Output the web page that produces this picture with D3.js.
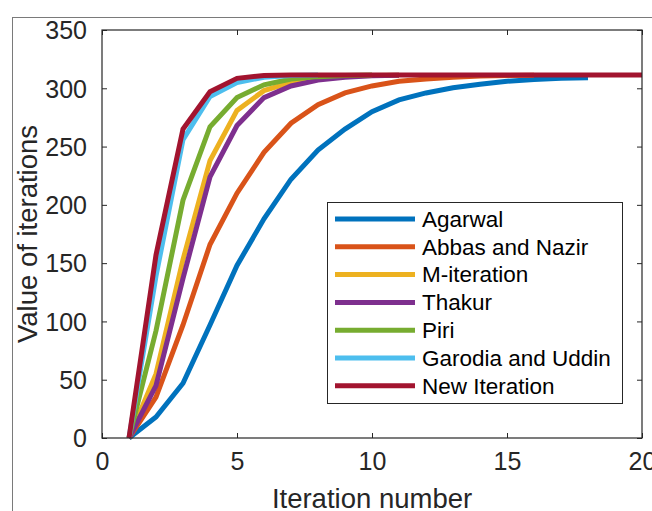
<!DOCTYPE html>
<html>
<head>
<meta charset="utf-8">
<script src="https://cdn.jsdelivr.net/npm/d3@7"></script>
<style>
body { margin: 0; background: #fff; }
svg { display: block; font-family: 'Liberation Sans', Arial, sans-serif; }
</style>
</head>
<body>
<div class="chart"></div>
<script>
// convergence of the iteration schemes
const iterations = d3.range(1, 21)
const agarwal = [0, 18, 47, 97, 148, 188, 222, 247, 265, 280, 290, 296, 300.5, 303.5, 306, 307.5, 308.5, 309]
const abbasNazir = [0, 35, 97, 166, 210, 245, 270, 286, 296, 302, 306, 308, 309.5, 310.5, 311, 311.2]
const mIteration = [0, 55, 153, 238, 281, 298, 305, 309, 310.5, 311, 311.2]
const thakur = [0, 45, 137, 224, 268, 292, 302, 307, 309.5, 310.7, 311.2]
const piri = [0, 92, 204, 267, 292, 303, 308, 310, 311, 311.3]
const garodiaUddin = [0, 139, 256, 293, 305, 309.5, 311, 311.3]
const newIteration = [0, 157, 265, 297, 308.5, 311, 311.4, 311.4, 311.4, 311.4, 311.4, 311.4, 311.4, 311.4, 311.4, 311.4, 311.4, 311.4, 311.4, 311.4]

const seriesNames = ['Agarwal', 'Abbas and Nazir', 'M-iteration', 'Thakur', 'Piri', 'Garodia and Uddin', 'New Iteration']
const seriesValues = [agarwal, abbasNazir, mIteration, thakur, piri, garodiaUddin, newIteration]
const colors = ['#0072BD', '#D95319', '#EDB120', '#7E2F8E', '#77AC30', '#4DBEEE', '#A2142F']
const xTicks = [0, 5, 10, 15, 20]
const yTicks = [0, 50, 100, 150, 200, 250, 300, 350]

const width = 652
const height = 511
const plotLeft = 102, plotRight = 642, plotTop = 30, plotBottom = 438

const svg = d3.select('.chart')
	.append('svg')
	.attr('width', width)
	.attr('height', height)
	.attr('viewBox', [0, 0, width, height])

// outer frame (screenshot border)
svg.append('rect')
	.attr('x', 12.5)
	.attr('y', 17.5)
	.attr('width', 700)
	.attr('height', 600)
	.attr('fill', 'none')
	.attr('stroke', '#7a7a7a')
	.attr('stroke-width', 1)

const x = d3.scaleLinear().domain([0, 20]).range([plotLeft, plotRight])
const y = d3.scaleLinear().domain([0, 350]).range([plotBottom, plotTop])

// axes with inward ticks on all four sides
const axisColor = '#262626'
const bottomAxis = svg.append('g')
	.attr('transform', `translate(0,${plotBottom})`)
	.call(d3.axisBottom(x).tickValues(xTicks).tickSizeInner(-5).tickSizeOuter(0).tickPadding(14))
const topAxis = svg.append('g')
	.attr('transform', `translate(0,${plotTop})`)
	.call(d3.axisTop(x).tickValues(xTicks).tickSizeInner(-5).tickSizeOuter(0).tickFormat(''))
const leftAxis = svg.append('g')
	.attr('transform', `translate(${plotLeft},0)`)
	.call(d3.axisLeft(y).tickValues(yTicks).tickSizeInner(-5).tickSizeOuter(0).tickPadding(15))
const rightAxis = svg.append('g')
	.attr('transform', `translate(${plotRight},0)`)
	.call(d3.axisRight(y).tickValues(yTicks).tickSizeInner(-5).tickSizeOuter(0).tickFormat(''))

;[bottomAxis, topAxis, leftAxis, rightAxis].forEach(g => {
	g.select('.domain').remove()
	g.selectAll('line').attr('stroke', axisColor).attr('stroke-width', 1)
	g.selectAll('text')
		.attr('fill', axisColor)
		.attr('font-size', '25px')
		.attr('font-family', "'Liberation Sans', Arial, sans-serif")
})
bottomAxis.selectAll('text').attr('dy', '0.71em')
leftAxis.selectAll('text').attr('dy', '0.35em')

// lines
const line = d3.line()
	.x((d, i) => x(iterations[i]))
	.y(d => y(d))

svg.append('g')
	.selectAll('path')
	.data(seriesValues)
	.enter()
	.append('path')
	.attr('d', d => line(d))
	.attr('fill', 'none')
	.attr('stroke', (d, i) => colors[i])
	.attr('stroke-width', 5)
	.attr('stroke-linejoin', 'miter')

// box
svg.append('rect')
	.attr('x', plotLeft)
	.attr('y', plotTop)
	.attr('width', plotRight - plotLeft)
	.attr('height', plotBottom - plotTop)
	.attr('fill', 'none')
	.attr('stroke', axisColor)
	.attr('stroke-width', 1.2)

// axis labels
svg.append('text')
	.text('Iteration number')
	.attr('x', (plotLeft + plotRight) / 2)
	.attr('y', 508)
	.attr('text-anchor', 'middle')
	.attr('font-size', '27.5px')
	.attr('fill', axisColor)

svg.append('text')
	.text('Value of iterations')
	.attr('transform', `translate(37,${(plotTop + plotBottom) / 2}) rotate(-90)`)
	.attr('text-anchor', 'middle')
	.attr('font-size', '27.5px')
	.attr('fill', axisColor)

// legend
const legend = svg.append('g')
legend.append('rect')
	.attr('x', 327.5)
	.attr('y', 202.5)
	.attr('width', 295)
	.attr('height', 201)
	.attr('fill', '#fff')
	.attr('stroke', axisColor)
	.attr('stroke-width', 1)

const rows = legend.selectAll('g.row')
	.data(seriesNames)
	.enter()
	.append('g')
	.attr('class', 'row')
	.attr('transform', (d, i) => `translate(0,${219 + i * 27.8})`)

rows.append('line')
	.attr('x1', 335)
	.attr('x2', 415)
	.attr('stroke', (d, i) => colors[i])
	.attr('stroke-width', 5)

rows.append('text')
	.text(d => d)
	.attr('x', 422)
	.attr('dy', '0.35em')
	.attr('font-size', '22.5px')
	.attr('fill', '#000')
</script>
</body>
</html>
